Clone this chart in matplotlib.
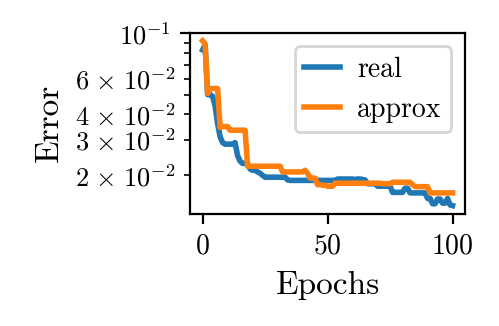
import numpy as np
import matplotlib
matplotlib.use("Agg")
import matplotlib.pyplot as plt
from matplotlib.ticker import FuncFormatter

plt.rcParams['font.family'] = 'serif'
plt.rcParams['font.serif'] = ['cmr10']
plt.rcParams['mathtext.fontset'] = 'cm'
plt.rcParams['axes.formatter.use_mathtext'] = True

epochs = list(range(101))

# blue curve
real = [0.083, 0.088, 0.050, 0.050, 0.049, 0.044, 0.036, 0.031, 0.029, 0.0285,
        0.0285, 0.0285, 0.0285, 0.0290, 0.025, 0.0235, 0.0229, 0.0229, 0.0228, 0.0215,
        0.0212, 0.0212, 0.0208, 0.0205, 0.0200, 0.0196, 0.0196, 0.0196, 0.0196, 0.0196,
        0.0196, 0.0196, 0.0196, 0.0196, 0.0190, 0.0189, 0.0189, 0.0189, 0.0189, 0.0189,
        0.0189, 0.0189, 0.0189, 0.0189, 0.0189, 0.0189, 0.0189, 0.0189, 0.0189, 0.0189,
        0.0189, 0.0189, 0.0189, 0.0189, 0.0192, 0.0192, 0.0192, 0.0192, 0.0192, 0.0192,
        0.0192, 0.0191, 0.0192, 0.0192, 0.0191, 0.0190, 0.0182, 0.0182, 0.0182, 0.0182,
        0.0177, 0.0177, 0.0177, 0.0177, 0.0177, 0.0177, 0.0165, 0.0165, 0.0165, 0.0165,
        0.0165, 0.0173, 0.0173, 0.0164, 0.0164, 0.0164, 0.0164, 0.0164, 0.0164, 0.0164,
        0.0154, 0.0154, 0.0145, 0.0145, 0.0153, 0.0153, 0.0146, 0.0146, 0.0154, 0.0143,
        0.0142]

# orange curve
approx = [0.092, 0.089, 0.0507, 0.0536, 0.0536, 0.0536, 0.0536, 0.0345, 0.0348, 0.0348,
          0.0348, 0.0334, 0.0334, 0.0334, 0.0334, 0.0334, 0.0334, 0.0334, 0.0222, 0.0222,
          0.0222, 0.0222, 0.0222, 0.0222, 0.0222, 0.0222, 0.0222, 0.0222, 0.0222, 0.0222,
          0.0222, 0.0222, 0.0208, 0.0208, 0.0208, 0.0208, 0.0208, 0.0208, 0.0208, 0.0208,
          0.0208, 0.0212, 0.0205, 0.0194, 0.0194, 0.0194, 0.0180, 0.0180, 0.0179, 0.0179,
          0.0177, 0.0177, 0.0177, 0.0183, 0.0183, 0.0183, 0.0183, 0.0183, 0.0183, 0.0183,
          0.0183, 0.0183, 0.0183, 0.0183, 0.0183, 0.0183, 0.0183, 0.0183, 0.0183, 0.0183,
          0.0183, 0.0183, 0.0182, 0.0182, 0.0182, 0.0182, 0.0185, 0.0185, 0.0185, 0.0185,
          0.0185, 0.0185, 0.0185, 0.0185, 0.0180, 0.0176, 0.0176, 0.0176, 0.0176, 0.0176,
          0.0176, 0.0164, 0.0164, 0.0164, 0.0164, 0.0164, 0.0164, 0.0164, 0.0164, 0.0164,
          0.0164]


def log_label(v, pos):
    e = int(np.floor(np.log10(v) + 1e-9))
    m = int(round(v / 10 ** e))
    if m == 1:
        return r'$10^{%d}$' % e
    if m in (2, 3, 4, 6):
        return r'$%d \;\!\times\;\! 10^{%d}$' % (m, e)
    return ''


fig, ax = plt.subplots(figsize=(2.495, 1.63), dpi=200)
ax.plot(epochs, real, label='real', lw=2.0)
ax.plot(epochs, approx, label='approx', lw=2.0)
ax.set_yscale('log')
ax.yaxis.set_major_formatter(FuncFormatter(log_label))
ax.yaxis.set_minor_formatter(FuncFormatter(log_label))
ax.set_xlabel('Epochs', fontsize=12)
ax.set_ylabel('Error', fontsize=12)
ax.tick_params(axis='x', labelsize=10)
ax.tick_params(axis='y', which='both', labelsize=9.5)
ax.legend(fontsize=10, loc='upper right', handlelength=1.3, handletextpad=0.6,
          borderpad=0.35)
fig.subplots_adjust(left=0.381, right=0.932, top=0.90, bottom=0.344)
fig.savefig('out.png', dpi=200)
